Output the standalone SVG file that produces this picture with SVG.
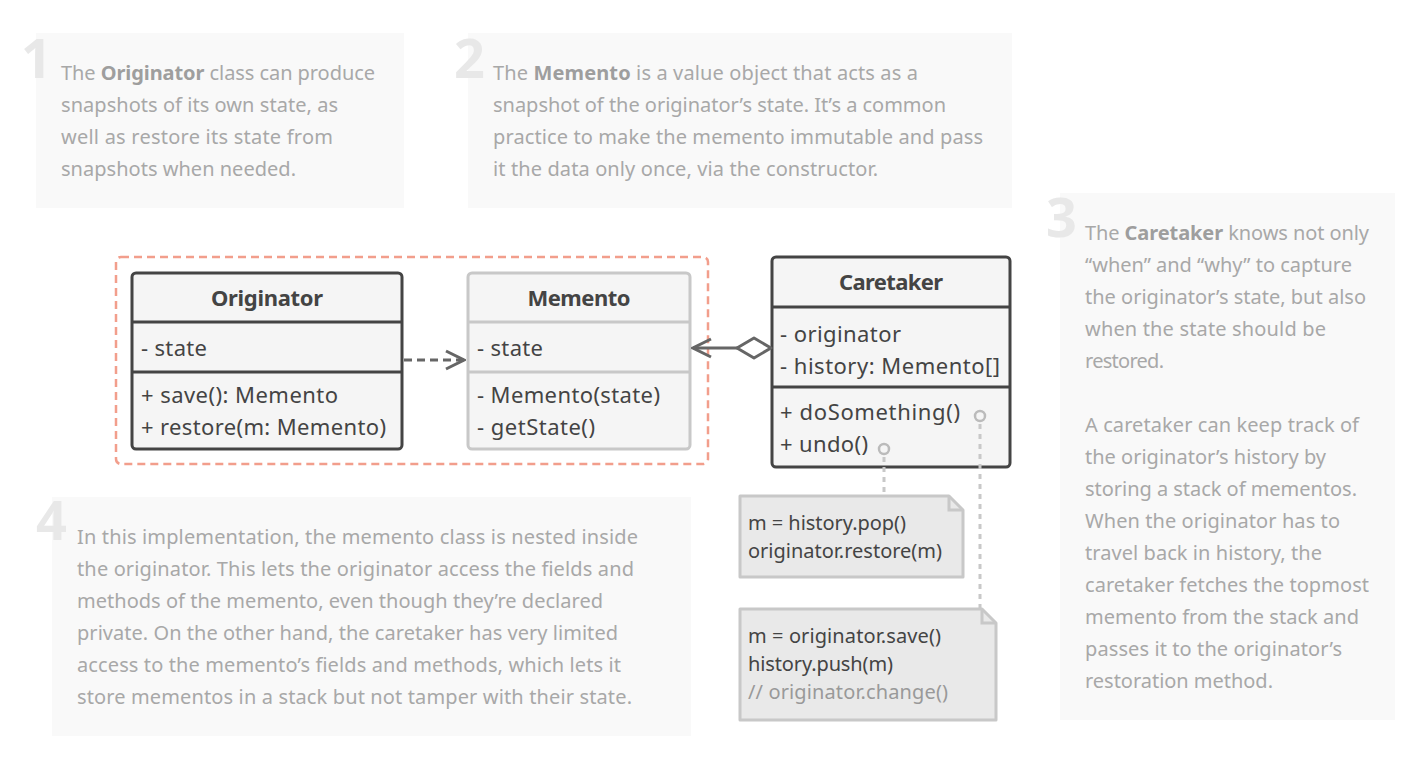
<svg xmlns="http://www.w3.org/2000/svg" width="1406" height="768" viewBox="0 0 1406 768">
<defs>
<style>
.bg{fill:#f9f9f9}
.num{font-family:"Noto Sans","Open Sans",sans-serif;font-weight:bold;font-size:54px;fill:#e8e8e8}
.p{font-family:"Noto Sans","Open Sans",sans-serif;font-size:20px;fill:#a8a8a8}
.b{font-weight:bold;fill:#9e9e9e}
.u{font-family:"Noto Sans","Open Sans",sans-serif;font-size:22px;fill:#444}
.h{font-weight:bold;text-anchor:middle}
.cls{fill:#f5f5f5;stroke:#444;stroke-width:3}
.clsl{fill:#f5f5f5;stroke:#c8c8c8;stroke-width:3}
.n{font-family:"Noto Sans","Open Sans",sans-serif;font-size:20px;fill:#444}
.cm{fill:#999}
.note{fill:#e9e9e9;stroke:#c8c8c8;stroke-width:3;stroke-linejoin:round}
</style>
<marker id="open" viewBox="0 0 22 22" refX="20" refY="11" markerWidth="22" markerHeight="22" markerUnits="userSpaceOnUse" orient="auto">
<path d="M2 2 L20 11 L2 20" fill="none" stroke="#666" stroke-width="3"/>
</marker>
</defs>

<g id="note1">
<rect class="bg" x="36" y="33" width="368" height="175"/>
<text class="num" x="21" y="78">1</text>
<text class="p" x="61" y="80" textLength="314"><tspan>The </tspan><tspan class="b">Originator</tspan><tspan> class can produce</tspan></text>
<text class="p" x="61" y="112" textLength="277">snapshots of its own state, as</text>
<text class="p" x="61" y="144" textLength="272">well as restore its state from</text>
<text class="p" x="61" y="176" textLength="235">snapshots when needed.</text>
</g>

<g id="note2">
<rect class="bg" x="468" y="33" width="544" height="175"/>
<text class="num" x="454" y="78">2</text>
<text class="p" x="493" y="80" textLength="425"><tspan>The </tspan><tspan class="b">Memento</tspan><tspan> is a value object that acts as a</tspan></text>
<text class="p" x="493" y="112" textLength="453">snapshot of the originator’s state. It’s a common</text>
<text class="p" x="493" y="144" textLength="490">practice to make the memento immutable and pass</text>
<text class="p" x="493" y="176" textLength="385">it the data only once, via the constructor.</text>
</g>

<g id="note3">
<rect class="bg" x="1060" y="193" width="335" height="527"/>
<text class="num" x="1046" y="237">3</text>
<text class="p" x="1085" y="240" textLength="284"><tspan>The </tspan><tspan class="b">Caretaker</tspan><tspan> knows not only</tspan></text>
<text class="p" x="1085" y="272" textLength="267">“when” and “why” to capture</text>
<text class="p" x="1085" y="304" textLength="281">the originator’s state, but also</text>
<text class="p" x="1085" y="336" textLength="241">when the state should be</text>
<text class="p" x="1085" y="368" textLength="79">restored.</text>
<text class="p" x="1085" y="432" textLength="274">A caretaker can keep track of</text>
<text class="p" x="1085" y="464" textLength="241">the originator’s history by</text>
<text class="p" x="1085" y="496" textLength="272">storing a stack of mementos.</text>
<text class="p" x="1085" y="528" textLength="255">When the originator has to</text>
<text class="p" x="1085" y="560" textLength="237">travel back in history, the</text>
<text class="p" x="1085" y="592" textLength="284">caretaker fetches the topmost</text>
<text class="p" x="1085" y="624" textLength="274">memento from the stack and</text>
<text class="p" x="1085" y="656" textLength="257">passes it to the originator’s</text>
<text class="p" x="1085" y="688" textLength="188">restoration method.</text>
</g>

<g id="note4">
<rect class="bg" x="52" y="497" width="639" height="239"/>
<text class="num" x="36" y="540">4</text>
<text class="p" x="77" y="544" textLength="561">In this implementation, the memento class is nested inside</text>
<text class="p" x="77" y="576" textLength="557">the originator. This lets the originator access the fields and</text>
<text class="p" x="77" y="608" textLength="526">methods of the memento, even though they’re declared</text>
<text class="p" x="77" y="640" textLength="541">private. On the other hand, the caretaker has very limited</text>
<text class="p" x="77" y="672" textLength="544">access to the memento’s fields and methods, which lets it</text>
<text class="p" x="77" y="704" textLength="555">store mementos in a stack but not tamper with their state.</text>
</g>

<g id="nested-group">
<rect x="116" y="257" width="592" height="207" rx="5" fill="none" stroke="#f29e8c" stroke-width="2.5" stroke-dasharray="8 5"/>
</g>

<g id="originator">
<rect class="cls" x="132" y="273" width="270" height="176" rx="4"/>
<line x1="132" y1="322" x2="402" y2="322" stroke="#444" stroke-width="3"/>
<line x1="132" y1="372" x2="402" y2="372" stroke="#444" stroke-width="3"/>
<text class="u h" x="267" y="306" textLength="112">Originator</text>
<text class="u" x="141" y="356" textLength="66">- state</text>
<text class="u" x="141" y="403" textLength="197">+ save(): Memento</text>
<text class="u" x="141" y="435" textLength="245">+ restore(m: Memento)</text>
</g>

<g id="memento">
<rect class="clsl" x="468" y="273" width="222" height="176" rx="4"/>
<line x1="468" y1="322" x2="690" y2="322" stroke="#c8c8c8" stroke-width="3"/>
<line x1="468" y1="372" x2="690" y2="372" stroke="#c8c8c8" stroke-width="3"/>
<text class="u h" x="579" y="306" textLength="103">Memento</text>
<text class="u" x="477" y="356" textLength="66">- state</text>
<text class="u" x="477" y="403" textLength="183">- Memento(state)</text>
<text class="u" x="477" y="435" textLength="118">- getState()</text>
</g>

<g id="caretaker">
<rect class="cls" x="772" y="257" width="238" height="210" rx="4"/>
<line x1="772" y1="307" x2="1010" y2="307" stroke="#444" stroke-width="3"/>
<line x1="772" y1="387" x2="1010" y2="387" stroke="#444" stroke-width="3"/>
<text class="u h" x="891" y="290" textLength="104">Caretaker</text>
<text class="u" x="780" y="342" textLength="121">- originator</text>
<text class="u" x="780" y="374" textLength="220">- history: Memento[]</text>
<text class="u" x="780" y="420" textLength="180">+ doSomething()</text>
<text class="u" x="780" y="452" textLength="88">+ undo()</text>
</g>

<g id="code-undo">
<path class="note" d="M740 496 H949 L963 510 V577 H740 Z"/>
<path d="M949 496 V510 H963" fill="none" stroke="#c8c8c8" stroke-width="3"/>
<text class="n" x="748" y="530" textLength="158">m = history.pop()</text>
<text class="n" x="748" y="558" textLength="194">originator.restore(m)</text>
</g>

<g id="code-do">
<path class="note" d="M740 609 H982 L996 623 V720 H740 Z"/>
<path d="M982 609 V623 H996" fill="none" stroke="#c8c8c8" stroke-width="3"/>
<text class="n" x="748" y="643" textLength="193">m = originator.save()</text>
<text class="n" x="748" y="671" textLength="145">history.push(m)</text>
<text class="n cm" x="748" y="699" textLength="200">// originator.change()</text>
</g>

<g id="connectors">
<line x1="404" y1="360" x2="464" y2="360" stroke="#666" stroke-width="3" stroke-dasharray="8 5" marker-end="url(#open)"/>
<line x1="738" y1="348" x2="693" y2="348" stroke="#666" stroke-width="3" marker-end="url(#open)"/>
<path d="M771 348 L754 338 L737 348 L754 358 Z" fill="#fff" stroke="#666" stroke-width="3" stroke-linejoin="round"/>
<circle cx="980" cy="416" r="5" fill="none" stroke="#bbb" stroke-width="2.5"/>
<circle cx="884" cy="449" r="5" fill="none" stroke="#bbb" stroke-width="2.5"/>
<line x1="884" y1="457" x2="884" y2="495" stroke="#c8c8c8" stroke-width="3" stroke-dasharray="5 5"/>
<line x1="980" y1="424" x2="980" y2="609" stroke="#c8c8c8" stroke-width="3" stroke-dasharray="5 5"/>
</g>
</svg>
